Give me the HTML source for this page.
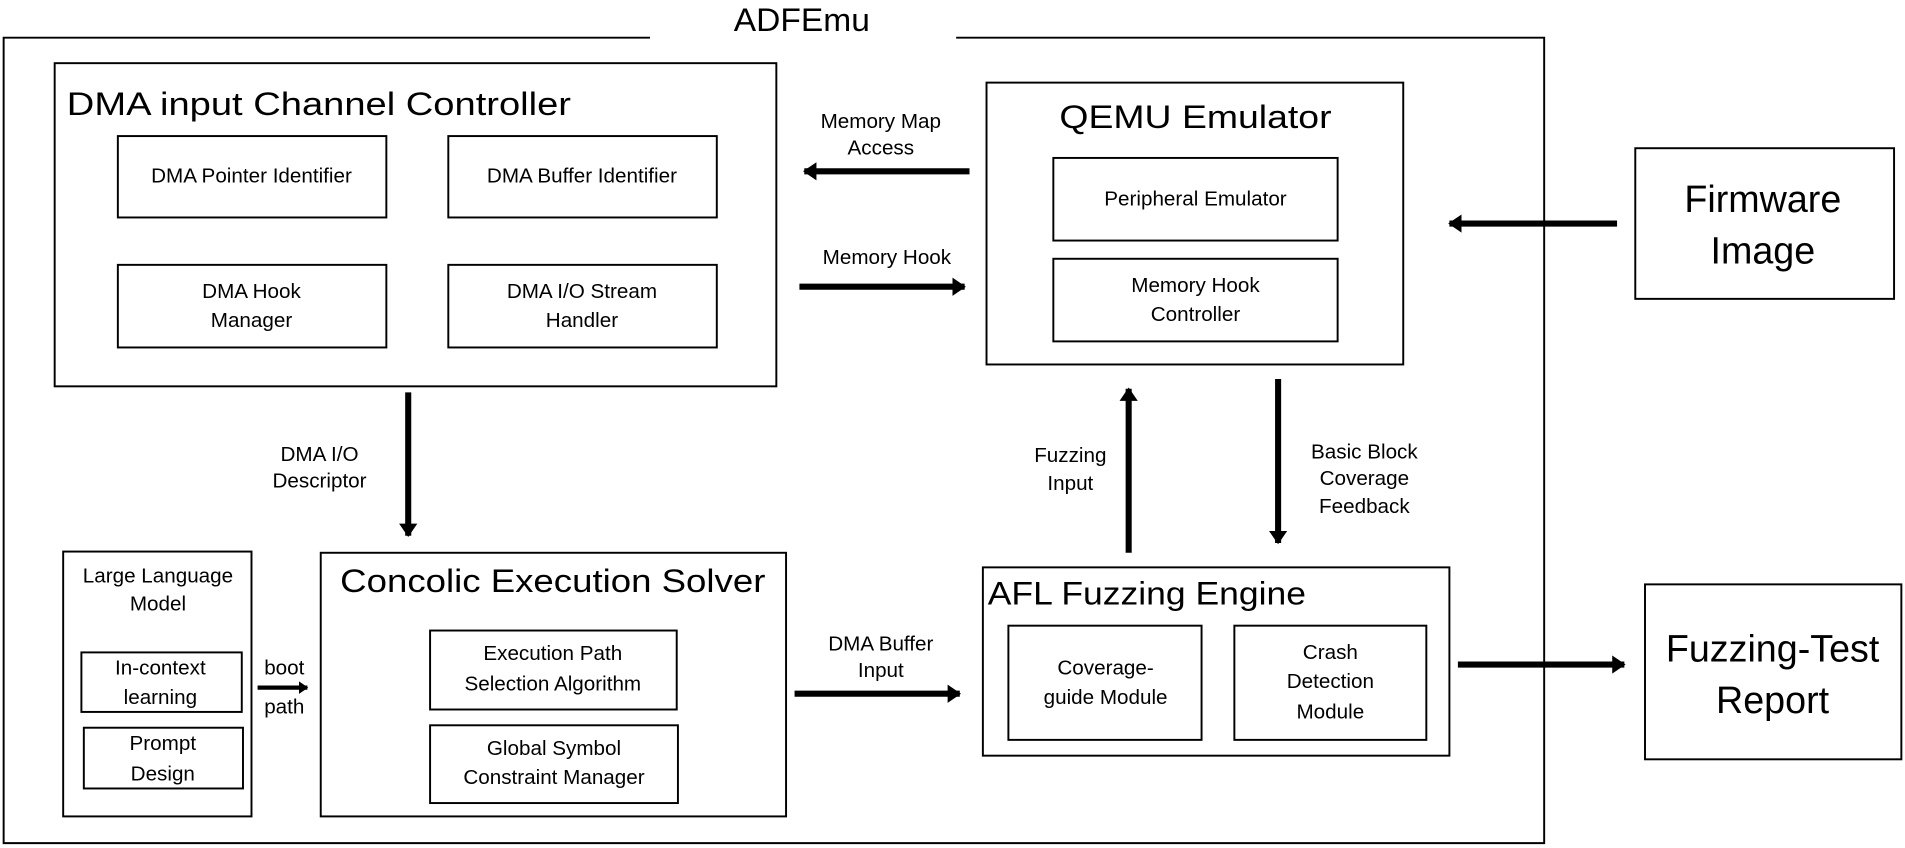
<!DOCTYPE html>
<html><head><meta charset="utf-8"><style>
html,body{margin:0;padding:0;background:#fff;}
svg{display:block;}
text{font-family:"Liberation Sans",sans-serif;fill:#000;dominant-baseline:central;text-anchor:middle;}
.s{font-size:17px;}
.t{font-size:27px;}
.b{font-size:31px;}
</style></head><body>
<svg width="1905" height="848" viewBox="0 0 1568 698" preserveAspectRatio="none" xmlns="http://www.w3.org/2000/svg">
<defs>
<marker id="ah" markerWidth="4" markerHeight="4" refX="2" refY="2" orient="auto" markerUnits="strokeWidth">
<path d="M0,0.5 L2.2,2 L0,3.5 z" fill="#000"/>
</marker>
</defs>
<g fill="none" stroke="#000" stroke-width="1.6">
<polyline points="535,31 3,31 3,694 1271,694 1271,31 787,31"/>
<rect x="45" y="52" width="594" height="266"/>
<rect x="97" y="112" width="221" height="67"/>
<rect x="369" y="112" width="221" height="67"/>
<rect x="97" y="218" width="221" height="68"/>
<rect x="369" y="218" width="221" height="68"/>
<rect x="52" y="454" width="155" height="218"/>
<rect x="67" y="537" width="132" height="49"/>
<rect x="69" y="599" width="131" height="50"/>
<rect x="264" y="455" width="383" height="217"/>
<rect x="354" y="519" width="203" height="65"/>
<rect x="354" y="597" width="204" height="64"/>
<rect x="812" y="68" width="343" height="232"/>
<rect x="867" y="130" width="234" height="68"/>
<rect x="867" y="213" width="234" height="68"/>
<rect x="1346" y="122" width="213" height="124"/>
<rect x="809" y="467" width="384" height="155"/>
<rect x="830" y="515" width="159" height="94"/>
<rect x="1016" y="515" width="158" height="94"/>
<rect x="1354" y="481" width="211" height="144"/>
</g>
<g stroke="#000" stroke-width="5" marker-end="url(#ah)">
<line x1="336" y1="323" x2="336" y2="441"/>
<line x1="212" y1="566" x2="253" y2="566" stroke-width="3.5"/>
<line x1="654" y1="571" x2="790" y2="571"/>
<line x1="798" y1="141" x2="662" y2="141"/>
<line x1="658" y1="236" x2="794" y2="236"/>
<line x1="1331" y1="184" x2="1193" y2="184"/>
<line x1="929" y1="455" x2="929" y2="320"/>
<line x1="1052" y1="312" x2="1052" y2="447"/>
<line x1="1200" y1="547" x2="1337" y2="547"/>
</g>
<text x="660" y="16" class="t" textLength="112" lengthAdjust="spacingAndGlyphs">ADFEmu</text>
<text x="55" y="85" class="t" style="text-anchor:start" textLength="415" lengthAdjust="spacingAndGlyphs">DMA input Channel Controller</text>
<text x="207" y="145" class="s">DMA Pointer Identifier</text>
<text x="479" y="145" class="s">DMA Buffer Identifier</text>
<text x="207" y="240" class="s">DMA Hook</text>
<text x="207" y="264" class="s">Manager</text>
<text x="479" y="240" class="s">DMA I/O Stream</text>
<text x="479" y="264" class="s">Handler</text>
<text x="263" y="374" class="s">DMA I/O</text>
<text x="263" y="396" class="s">Descriptor</text>
<text x="130" y="474" class="s">Large Language</text>
<text x="130" y="497" class="s">Model</text>
<text x="132" y="550" class="s">In-context</text>
<text x="132" y="574" class="s">learning</text>
<text x="134" y="612" class="s">Prompt</text>
<text x="134" y="637" class="s">Design</text>
<text x="234" y="550" class="s">boot</text>
<text x="234" y="582" class="s">path</text>
<text x="455" y="478" class="t" textLength="350" lengthAdjust="spacingAndGlyphs">Concolic Execution Solver</text>
<text x="455" y="538" class="s">Execution Path</text>
<text x="455" y="563" class="s">Selection Algorithm</text>
<text x="456" y="616" class="s">Global Symbol</text>
<text x="456" y="640" class="s">Constraint Manager</text>
<text x="725" y="530" class="s">DMA Buffer</text>
<text x="725" y="552" class="s">Input</text>
<text x="725" y="100" class="s">Memory Map</text>
<text x="725" y="122" class="s">Access</text>
<text x="730" y="212" class="s">Memory Hook</text>
<text x="984" y="96" class="t" textLength="224" lengthAdjust="spacingAndGlyphs">QEMU Emulator</text>
<text x="984" y="164" class="s">Peripheral Emulator</text>
<text x="984" y="235" class="s">Memory Hook</text>
<text x="984" y="259" class="s">Controller</text>
<text x="1451" y="164" class="b">Firmware</text>
<text x="1451" y="206" class="b">Image</text>
<text x="881" y="375" class="s">Fuzzing</text>
<text x="881" y="398" class="s">Input</text>
<text x="1123" y="372" class="s">Basic Block</text>
<text x="1123" y="394" class="s">Coverage</text>
<text x="1123" y="417" class="s">Feedback</text>
<text x="813" y="488" class="t" style="text-anchor:start" textLength="262" lengthAdjust="spacingAndGlyphs">AFL Fuzzing Engine</text>
<text x="910" y="550" class="s">Coverage-</text>
<text x="910" y="574" class="s">guide Module</text>
<text x="1095" y="537" class="s">Crash</text>
<text x="1095" y="561" class="s">Detection</text>
<text x="1095" y="586" class="s">Module</text>
<text x="1459" y="534" class="b">Fuzzing-Test</text>
<text x="1459" y="576" class="b">Report</text>
</svg>
</body></html>
